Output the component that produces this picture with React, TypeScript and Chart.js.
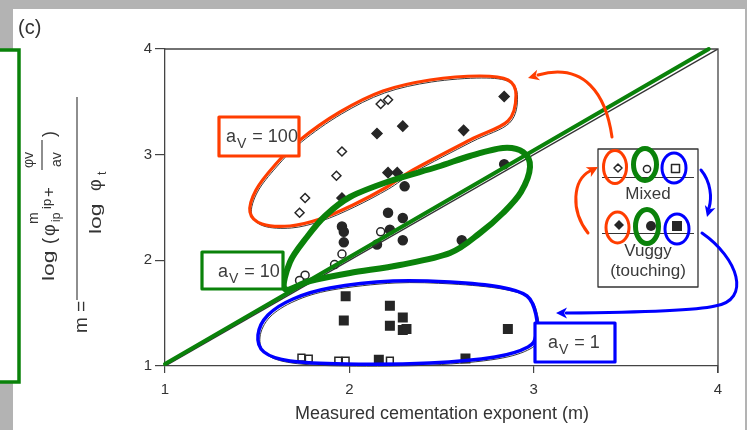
import React, { useEffect, useRef } from "react";
import { Chart, registerables } from "chart.js";

Chart.register(...registerables);

const W = 747;
const H = 430;
const FONT = '"Liberation Sans", Arial, Helvetica, sans-serif';

// tick labels
const xTickValues = [1, 2, 3, 4];
const yTickValues = [1, 2, 3, 4];

// a_v = 100 (diamonds)
const mixed100M = [2.17, 2.21, 1.96, 1.93, 1.76, 1.73];
const mixed100Calc = [3.48, 3.52, 3.03, 2.8, 2.59, 2.45];
const vuggy100M = [2.84, 2.29, 2.15, 2.62, 2.21, 2.26, 1.96];
const vuggy100Calc = [3.55, 3.27, 3.2, 3.23, 2.83, 2.83, 2.59];

// a_v = 10 (circles)
const mixed10M = [2.17, 1.96, 1.92, 1.76, 1.73];
const mixed10Calc = [2.27, 2.06, 1.96, 1.86, 1.81];
const vuggy10M = [2.84, 2.3, 2.21, 2.29, 1.96, 1.97, 2.22, 2.29, 2.15, 1.97, 2.61];
const vuggy10Calc = [2.91, 2.7, 2.45, 2.4, 2.32, 2.27, 2.29, 2.19, 2.15, 2.17, 2.19];

// a_v = 1 (squares)
const mixed1M = [1.74, 1.78, 1.94, 1.98, 2.22];
const mixed1Calc = [1.08, 1.07, 1.05, 1.05, 1.05];
const vuggy1M = [1.98, 2.22, 2.29, 1.97, 2.22, 2.29, 2.31, 2.86, 2.16, 2.63];
const vuggy1Calc = [1.66, 1.57, 1.46, 1.43, 1.38, 1.34, 1.35, 1.35, 1.06, 1.07];

// 1:1 line
const identityX = [1, 4];
const identityY = [1, 4];
// hand-drawn green highlight along the 1:1 line
const highlightX = [1, 3.95];
const highlightY = [1.01, 4.0];

const RED = "#ff3d00";
const GREEN = "#0a820a";
const BLUE = "#0000ff";
const INK = "#262626";

const toPts = (xs: number[], ys: number[]) => xs.map((x, i) => ({ x, y: ys[i] }));

// hand-drawn loop outlines (pixels)
const redLoop = [
  [250, 212], [256, 190], [275, 165], [300, 140], [340, 112], [383, 91], [430, 80],
  [480, 76], [508, 80], [516, 95], [508, 121], [470, 140], [413, 170], [387, 187],
  [353, 205], [320, 219], [290, 226], [262, 224],
];
const greenLoop = [
  [285, 289], [290, 262], [307, 237], [325, 216], [350, 197], [390, 181], [437, 167],
  [470, 156], [503, 148], [523, 152], [530, 167], [521, 192], [503, 213], [480, 233],
  [450, 253], [400, 265], [350, 273], [310, 281],
];
const blueLoop = [
  [258, 335], [268, 315], [293, 299], [330, 288], [393, 281], [450, 282], [500, 287],
  [527, 296], [536, 315], [536, 335], [528, 347], [495, 357], [430, 363], [345, 364],
  [290, 361], [264, 352],
];

function smoothClosed(ctx: CanvasRenderingContext2D, pts: number[][], dx = 0, dy = 0) {
  const n = pts.length;
  ctx.beginPath();
  ctx.moveTo(pts[0][0] + dx, pts[0][1] + dy);
  for (let i = 0; i < n; i++) {
    const p0 = pts[(i - 1 + n) % n];
    const p1 = pts[i];
    const p2 = pts[(i + 1) % n];
    const p3 = pts[(i + 2) % n];
    ctx.bezierCurveTo(
      p1[0] + (p2[0] - p0[0]) / 6 + dx,
      p1[1] + (p2[1] - p0[1]) / 6 + dy,
      p2[0] - (p3[0] - p1[0]) / 6 + dx,
      p2[1] - (p3[1] - p1[1]) / 6 + dy,
      p2[0] + dx,
      p2[1] + dy
    );
  }
  ctx.closePath();
}

function head(ctx: CanvasRenderingContext2D, tx: number, ty: number, ang: number, color: string) {
  const len = 11;
  const wid = 5.5;
  ctx.save();
  ctx.fillStyle = color;
  ctx.translate(tx, ty);
  ctx.rotate(ang);
  ctx.beginPath();
  ctx.moveTo(0, 0);
  ctx.lineTo(-len, -wid);
  ctx.lineTo(-len + 3, 0);
  ctx.lineTo(-len, wid);
  ctx.closePath();
  ctx.fill();
  ctx.restore();
}

function vtext(ctx: CanvasRenderingContext2D, text: string, x: number, y: number, size: number, stretch = 1) {
  ctx.save();
  ctx.translate(x, y);
  ctx.rotate(-Math.PI / 2);
  ctx.scale(stretch, 1);
  ctx.font = `${size}px ${FONT}`;
  ctx.textAlign = "left";
  ctx.textBaseline = "alphabetic";
  ctx.fillText(text, 0, 0);
  ctx.restore();
}

function labelBox(ctx: CanvasRenderingContext2D, x: number, y: number, w: number, h: number, color: string, tx: number, value: string) {
  ctx.save();
  ctx.fillStyle = "#ffffff";
  ctx.fillRect(x, y, w, h);
  ctx.strokeStyle = color;
  ctx.lineWidth = 3.2;
  ctx.strokeRect(x, y, w, h);
  ctx.fillStyle = "#3c3c3c";
  ctx.textBaseline = "alphabetic";
  ctx.textAlign = "left";
  const base = y + 25;
  ctx.font = `18px ${FONT}`;
  ctx.fillText("a", tx, base);
  const aw = ctx.measureText("a").width;
  ctx.font = `14px ${FONT}`;
  ctx.fillText("V", tx + aw + 1, base + 6);
  const vw = ctx.measureText("V").width;
  ctx.font = `18px ${FONT}`;
  ctx.fillText(" = " + value, tx + aw + vw + 2, base);
  ctx.restore();
}

const decorPlugin = {
  id: "decor",
  beforeDraw(chart: any) {
    const ctx: CanvasRenderingContext2D = chart.ctx;
    ctx.save();
    ctx.fillStyle = "#b3b3b3";
    ctx.fillRect(0, 0, W, H);
    ctx.fillStyle = "#ffffff";
    ctx.fillRect(13, 9, W - 13 - 2, H - 9);
    // green bracket at left
    ctx.fillRect(0, 50, 19, 332);
    ctx.strokeStyle = GREEN;
    ctx.lineWidth = 3.5;
    ctx.strokeRect(-5, 50, 24, 332);
    ctx.restore();
  },
  afterDraw(chart: any) {
    const ctx: CanvasRenderingContext2D = chart.ctx;
    const xs = chart.scales.x;
    const ys = chart.scales.y;
    const a = chart.chartArea;
    ctx.save();

    // frame top & right
    ctx.strokeStyle = "#444";
    ctx.lineWidth = 1.3;
    ctx.beginPath();
    ctx.moveTo(a.left, a.top);
    ctx.lineTo(a.right, a.top);
    ctx.lineTo(a.right, a.bottom + 7);
    ctx.stroke();

    // green highlight along 1:1 line
    ctx.strokeStyle = GREEN;
    ctx.lineWidth = 4;
    ctx.lineCap = "round";
    ctx.beginPath();
    ctx.moveTo(xs.getPixelForValue(highlightX[0]), ys.getPixelForValue(highlightY[0]) - 1);
    ctx.lineTo(xs.getPixelForValue(highlightX[1]), ys.getPixelForValue(highlightY[1]));
    ctx.stroke();
    ctx.lineCap = "butt";

    // thin original loops (black) under colored ones
    ctx.strokeStyle = "#3a3a3a";
    ctx.lineWidth = 1;
    smoothClosed(ctx, redLoop, 1.5, 2);
    ctx.stroke();
    smoothClosed(ctx, blueLoop, 2, 2);
    ctx.stroke();

    ctx.lineJoin = "round";
    ctx.strokeStyle = RED;
    ctx.lineWidth = 3.2;
    smoothClosed(ctx, redLoop);
    ctx.stroke();
    ctx.strokeStyle = GREEN;
    ctx.lineWidth = 6;
    smoothClosed(ctx, greenLoop);
    ctx.stroke();
    ctx.strokeStyle = BLUE;
    ctx.lineWidth = 3.5;
    smoothClosed(ctx, blueLoop);
    ctx.stroke();

    // label boxes
    labelBox(ctx, 219, 117, 80, 39, RED, 226, "100");
    labelBox(ctx, 202, 252, 81, 37, GREEN, 218, "10");
    labelBox(ctx, 535, 323, 80, 39, BLUE, 548, "1");

    // legend box
    ctx.fillStyle = "#fff";
    ctx.fillRect(598, 149, 100, 138);
    ctx.strokeStyle = "#333";
    ctx.lineWidth = 1.3;
    ctx.strokeRect(598, 149, 100, 138);
    ctx.lineWidth = 1;
    ctx.beginPath();
    ctx.moveTo(602, 177.5);
    ctx.lineTo(694, 177.5);
    ctx.moveTo(602, 233.5);
    ctx.lineTo(694, 233.5);
    ctx.stroke();
    // legend symbols
    ctx.fillStyle = INK;
    ctx.strokeStyle = INK;
    ctx.lineWidth = 1.5;
    // open diamond
    ctx.beginPath();
    ctx.moveTo(618, 164); ctx.lineTo(622, 168); ctx.lineTo(618, 172); ctx.lineTo(614, 168); ctx.closePath();
    ctx.stroke();
    // open circle
    ctx.beginPath();
    ctx.arc(647, 169, 3.6, 0, Math.PI * 2);
    ctx.stroke();
    // open square
    ctx.strokeRect(671.5, 164.5, 8, 8);
    // filled diamond
    ctx.beginPath();
    ctx.moveTo(619, 220); ctx.lineTo(624, 225); ctx.lineTo(619, 230); ctx.lineTo(614, 225); ctx.closePath();
    ctx.fill();
    // filled circle
    ctx.beginPath();
    ctx.arc(651, 226, 5, 0, Math.PI * 2);
    ctx.fill();
    // filled square
    ctx.fillRect(672, 221, 10, 10);

    ctx.fillStyle = "#3a3a3a";
    ctx.font = `17px ${FONT}`;
    ctx.textAlign = "center";
    ctx.textBaseline = "alphabetic";
    ctx.fillText("Mixed", 648, 199);
    ctx.fillText("Vuggy", 648, 256);
    ctx.fillText("(touching)", 648, 276);

    // colored rings in legend
    const ring = (cx: number, cy: number, rx: number, ry: number, c: string, lw: number) => {
      ctx.strokeStyle = c;
      ctx.lineWidth = lw;
      ctx.beginPath();
      ctx.ellipse(cx, cy, rx, ry, 0, 0, Math.PI * 2);
      ctx.stroke();
    };
    ring(615, 167, 11.5, 16.5, RED, 3);
    ring(645, 164.5, 11.5, 16, GREEN, 5);
    ring(674, 168, 12, 15, BLUE, 3);
    ring(617.5, 227.5, 11.5, 15.5, RED, 3);
    ring(647, 226.5, 11.5, 17, GREEN, 5);
    ring(677, 229, 12, 15, BLUE, 3);

    // arrows
    ctx.lineCap = "round";
    ctx.lineWidth = 3;
    ctx.strokeStyle = RED;
    ctx.beginPath();
    ctx.moveTo(612, 137);
    ctx.bezierCurveTo(606, 95, 585, 62, 538, 75);
    ctx.stroke();
    head(ctx, 528, 78, Math.atan2(75 - 62, 538 - 585), RED);
    ctx.beginPath();
    ctx.moveTo(588, 233);
    ctx.bezierCurveTo(570, 210, 573, 180, 590, 171);
    ctx.stroke();
    head(ctx, 598, 167, Math.atan2(171 - 180, 590 - 573), RED);

    ctx.strokeStyle = BLUE;
    ctx.beginPath();
    ctx.moveTo(701, 170);
    ctx.bezierCurveTo(711, 182, 712, 198, 709, 208);
    ctx.stroke();
    head(ctx, 707, 217, Math.atan2(208 - 198, 709 - 712), BLUE);
    ctx.beginPath();
    ctx.moveTo(702, 233);
    ctx.bezierCurveTo(738, 258, 752, 300, 715, 306);
    ctx.quadraticCurveTo(690, 312, 566, 313);
    ctx.stroke();
    head(ctx, 556, 313, Math.PI, BLUE);
    ctx.lineCap = "butt";

    // panel label
    ctx.fillStyle = "#333";
    ctx.textAlign = "left";
    ctx.font = `20px ${FONT}`;
    ctx.fillText("(c)", 18, 34);

    // x-axis title
    ctx.textAlign = "center";
    ctx.font = `18px ${FONT}`;
    ctx.fillText("Measured cementation exponent (m)", 442, 419);

    // y-axis title (rotated formula)
    ctx.fillStyle = "#333";
    vtext(ctx, "m =", 87, 333, 19);
    ctx.strokeStyle = "#444";
    ctx.lineWidth = 1.2;
    ctx.beginPath();
    ctx.moveTo(77, 300);
    ctx.lineTo(77, 97);
    ctx.moveTo(42, 170);
    ctx.lineTo(42, 140);
    ctx.stroke();
    vtext(ctx, "log", 54, 281, 17, 1.35);
    vtext(ctx, "(", 55, 244, 18);
    vtext(ctx, "\u03c6", 55, 236, 18);
    vtext(ctx, "m", 38, 224, 14);
    vtext(ctx, "ip", 60, 222, 12);
    vtext(ctx, "ip", 51, 209, 13);
    vtext(ctx, "+", 54, 197, 17);
    vtext(ctx, "\u03c6v", 33, 168, 14);
    vtext(ctx, "av", 61, 167, 14);
    vtext(ctx, ")", 55, 137, 18);
    vtext(ctx, "log", 101, 234, 17, 1.35);
    vtext(ctx, "\u03c6", 101, 191, 18);
    vtext(ctx, "t", 106, 175, 12);

    ctx.restore();
  },
};

export default function App() {
  const ref = useRef<HTMLCanvasElement | null>(null);
  useEffect(() => {
    if (!ref.current) return;
    const ptStyle = { borderColor: INK, borderWidth: 1.5 };
    const chart = new Chart(ref.current, {
      type: "scatter",
      data: {
        datasets: [
          {
            type: "line",
            label: "1:1",
            data: toPts(identityX, identityY),
            borderColor: "#333",
            borderWidth: 1.5,
            pointRadius: 0,
            fill: false,
          } as any,
          { label: "Mixed a_v=100", data: toPts(mixed100M, mixed100Calc), pointStyle: "rectRot", pointRadius: 4.5, backgroundColor: "#fff", ...ptStyle },
          { label: "Vuggy a_v=100", data: toPts(vuggy100M, vuggy100Calc), pointStyle: "rectRot", pointRadius: 5, backgroundColor: INK, ...ptStyle },
          { label: "Mixed a_v=10", data: toPts(mixed10M, mixed10Calc), pointStyle: "circle", pointRadius: 4, backgroundColor: "#fff", ...ptStyle },
          { label: "Vuggy a_v=10", data: toPts(vuggy10M, vuggy10Calc), pointStyle: "circle", pointRadius: 4.5, backgroundColor: INK, ...ptStyle },
          { label: "Mixed a_v=1", data: toPts(mixed1M, mixed1Calc), pointStyle: "rect", pointRadius: 4.8, backgroundColor: "#fff", ...ptStyle },
          { label: "Vuggy a_v=1", data: toPts(vuggy1M, vuggy1Calc), pointStyle: "rect", pointRadius: 6, backgroundColor: INK, ...ptStyle },
        ],
      },
      options: {
        responsive: false,
        animation: false,
        events: [],
        layout: { padding: { left: 0, top: 49, right: 29, bottom: 0 } },
        plugins: { legend: { display: false }, tooltip: { enabled: false } },
        scales: {
          x: {
            type: "linear",
            min: 1,
            max: 4,
            afterBuildTicks: (s: any) => {
              s.ticks = xTickValues.map((v) => ({ value: v }));
            },
            afterFit: (s: any) => {
              s.height = 64;
            },
            ticks: { font: { size: 15, family: FONT }, color: "#333", padding: 8 },
            grid: { drawOnChartArea: false, drawTicks: true, tickLength: 7, color: "#444", lineWidth: 1.2 },
            border: { display: true, color: "#444", width: 1.3 },
          },
          y: {
            type: "linear",
            min: 1,
            max: 4,
            afterBuildTicks: (s: any) => {
              s.ticks = yTickValues.map((v) => ({ value: v }));
            },
            afterFit: (s: any) => {
              s.width = 165;
            },
            ticks: { font: { size: 15, family: FONT }, color: "#333", padding: 3 },
            grid: { drawOnChartArea: false, drawTicks: true, tickLength: 10, color: "#444", lineWidth: 1.2 },
            border: { display: true, color: "#444", width: 1.3 },
          },
        },
      },
      plugins: [decorPlugin],
    });
    return () => chart.destroy();
  }, []);
  return (
    <div style={{ position: "fixed", left: 0, top: 0, width: W, height: H, background: "#fff" }}>
      <canvas ref={ref} width={W} height={H} style={{ display: "block", width: W, height: H }} />
    </div>
  );
}
